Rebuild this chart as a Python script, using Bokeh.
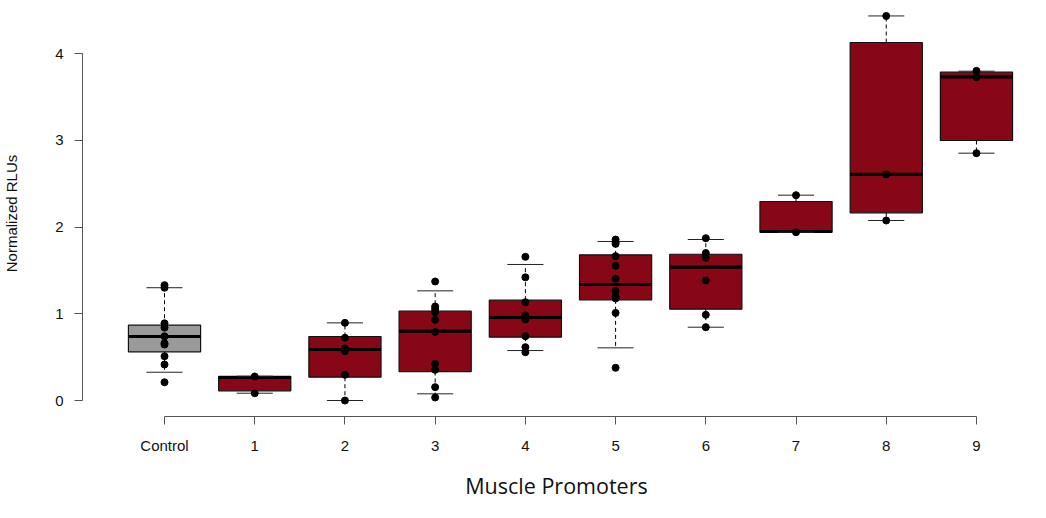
from bokeh.plotting import figure
from bokeh.models import FixedTicker, Range1d, ColumnDataSource
from bokeh.embed import file_html
from bokeh.resources import INLINE

groups = ["Control", "1", "2", "3", "4", "5", "6", "7", "8", "9"]
lower_whisker = [0.326, 0.084, 0.0, 0.077, 0.576, 0.607, 0.845, 1.94, 2.075, 2.851]
q1 = [0.561, 0.112, 0.269, 0.334, 0.73, 1.16, 1.053, 1.94, 2.164, 2.997]
median = [0.738, 0.265, 0.588, 0.80, 0.957, 1.337, 1.537, 1.948, 2.606, 3.73]
q3 = [0.868, 0.277, 0.738, 1.03, 1.157, 1.679, 1.686, 2.294, 4.127, 3.785]
upper_whisker = [1.30, 0.28, 0.895, 1.264, 1.568, 1.833, 1.856, 2.367, 4.433, 3.796]

points = [
    [1.33, 1.30, 0.89, 0.84, 0.74, 0.66, 0.645, 0.51, 0.415, 0.21],
    [0.277, 0.084],
    [0.895, 0.723, 0.60, 0.568, 0.296, 0.0],
    [1.372, 1.084, 1.053, 1.018, 0.93, 0.79, 0.423, 0.354, 0.154, 0.035],
    [1.656, 1.42, 1.133, 0.98, 0.934, 0.741, 0.615, 0.557],
    [1.856, 1.825, 1.806, 1.664, 1.552, 1.403, 1.264, 1.195, 1.176, 1.01, 0.377],
    [1.871, 1.70, 1.645, 1.383, 0.988, 0.845],
    [2.367, 1.94],
    [4.433, 2.606, 2.075],
    [3.80, 3.727, 2.851],
]
y_ticks = [0, 1, 2, 3, 4]

colors = ["#9a9a9a"] + ["#880716"] * 9
xs = list(range(len(groups)))
box_half = 0.4
cap_half = 0.2

p = figure(width=1030, height=502, output_backend="svg", toolbar_location=None,
           x_range=Range1d(-0.909, 9.599), y_range=Range1d(-0.1844, 4.4957),
           min_border_left=82, min_border_right=0, min_border_top=10, min_border_bottom=86)
p.outline_line_color = None
p.xgrid.visible = False
p.ygrid.visible = False

src = ColumnDataSource(dict(
    x=xs, lw=lower_whisker, q1=q1, med=median, q3=q3, uw=upper_whisker, color=colors,
    xl=[x - box_half for x in xs], xr=[x + box_half for x in xs],
    cl=[x - cap_half for x in xs], cr=[x + cap_half for x in xs],
))

# whiskers
p.segment(x0="x", y0="q3", x1="x", y1="uw", source=src, line_color="black", line_width=1, line_dash="4 3")
p.segment(x0="x", y0="q1", x1="x", y1="lw", source=src, line_color="black", line_width=1, line_dash="4 3")
# boxes
p.vbar(x="x", width=2 * box_half, bottom="q1", top="q3", source=src,
       fill_color="color", line_color="#111111", line_width=1.2)
# medians
p.segment(x0="xl", y0="med", x1="xr", y1="med", source=src, line_color="black", line_width=3.2)
# caps
p.segment(x0="cl", y0="uw", x1="cr", y1="uw", source=src, line_color="#222222", line_width=1)
p.segment(x0="cl", y0="lw", x1="cr", y1="lw", source=src, line_color="#222222", line_width=1)

# points
px, py = [], []
for i, vals in enumerate(points):
    for v in vals:
        px.append(xs[i])
        py.append(v)
p.scatter(px, py, size=7, fill_color="black", line_color="black")

# axes
xa = p.xaxis[0]
xa.ticker = FixedTicker(ticks=xs)
xa.major_label_overrides = {x: g for x, g in zip(xs, groups)}
xa.bounds = (xs[0], xs[-1])
xa.minor_tick_line_color = None
xa.major_tick_in = 0
xa.major_tick_out = 8
xa.axis_line_color = "#555555"
xa.major_tick_line_color = "#555555"
xa.major_label_text_font = "Liberation Sans"
xa.major_label_text_font_size = "15px"
xa.major_label_text_color = "#111111"
xa.major_label_standoff = 12
xa.axis_label = "Muscle Promoters"
xa.axis_label_text_font = "Open Sans"
xa.axis_label_text_font_size = "21.5px"
xa.axis_label_text_font_style = "normal"
xa.axis_label_text_color = "#111111"
xa.axis_label_standoff = 14

ya = p.yaxis[0]
ya.ticker = FixedTicker(ticks=y_ticks)
ya.bounds = (y_ticks[0], y_ticks[-1])
ya.minor_tick_line_color = None
ya.major_tick_in = 0
ya.major_tick_out = 8
ya.axis_line_color = "#555555"
ya.major_tick_line_color = "#555555"
ya.major_label_text_font = "Liberation Sans"
ya.major_label_text_font_size = "15px"
ya.major_label_text_color = "#111111"
ya.major_label_standoff = 11
ya.axis_label = "Normalized RLUs"
ya.axis_label_text_font = "Liberation Sans"
ya.axis_label_text_font_size = "15px"
ya.axis_label_text_font_style = "normal"
ya.axis_label_text_color = "#111111"
ya.axis_label_standoff = 32

open("out.html", "w").write(file_html(p, INLINE))
